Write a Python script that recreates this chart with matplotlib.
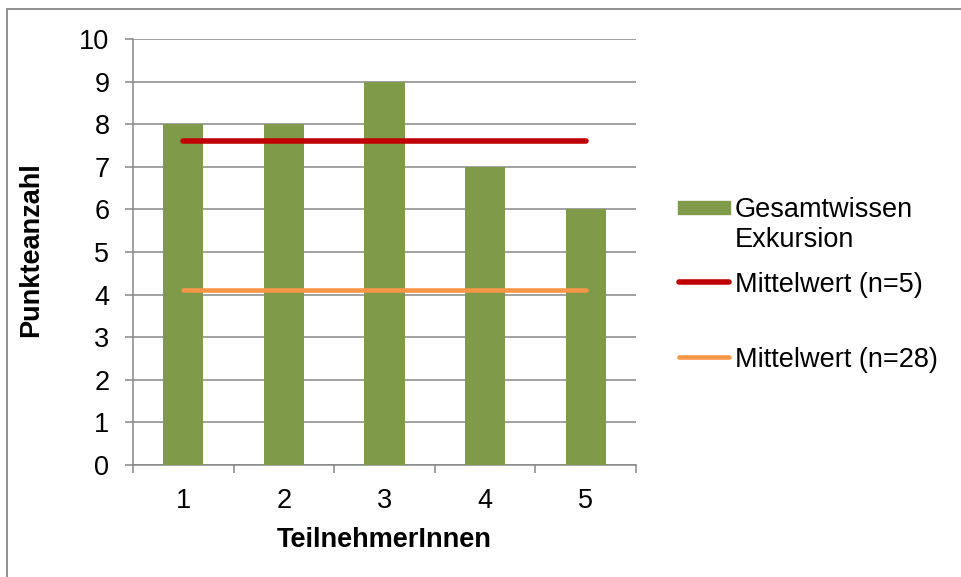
import matplotlib
matplotlib.use("Agg")
import matplotlib.pyplot as plt
from matplotlib.patches import Rectangle
from matplotlib.lines import Line2D

# Data
participants = ["1", "2", "3", "4", "5"]
scores = [8, 8, 9, 7, 6]
mean_group = 7.6      # Mittelwert (n=5)
mean_all = 4.1        # Mittelwert (n=28)
y_ticks = list(range(0, 11))

bar_color = "#7F9B49"
red = "#C00000"
orange = "#F79646"
grid_gray = "#878787"
font = "Liberation Sans"
fs = 19.5

W, H = 961, 577
fig = plt.figure(figsize=(W / 100, H / 100), dpi=100)


def fx(px):
    return px / W


def fy(py):
    return 1 - py / H


# outer chart border
fig.patches.append(Rectangle((fx(7), fy(600)), fx(1000), fy(9) - fy(600),
                             transform=fig.transFigure, fill=False,
                             edgecolor="#868686", linewidth=1.3))

ax = fig.add_axes([fx(133), fy(465), fx(636) - fx(133), fy(39) - fy(465)])

x = list(range(1, len(participants) + 1))
ax.bar(x, scores, width=0.4, color=bar_color, zorder=3)
ax.plot([x[0], x[-1]], [mean_group] * 2, color=red, lw=4.0,
        solid_capstyle="round", zorder=4)
ax.plot([x[0], x[-1]], [mean_all] * 2, color=orange, lw=3.3,
        solid_capstyle="round", zorder=4)

ax.set_xlim(0.5, len(participants) + 0.5)
ax.set_ylim(0, 10)

# y axis
ax.set_yticks(y_ticks)
ax.set_yticklabels([str(v) for v in y_ticks], fontfamily=font, fontsize=fs)
ax.yaxis.grid(True, color=grid_gray, lw=1.1, zorder=0)
ax.tick_params(axis="y", direction="out", length=6, width=1.1,
               color=grid_gray, pad=11)

# x axis: labels at centres, tick marks at category boundaries
ax.set_xticks(x)
ax.set_xticklabels(participants, fontfamily=font, fontsize=fs)
ax.set_xticks([v + 0.5 for v in range(0, len(participants) + 1)], minor=True)
ax.tick_params(axis="x", which="major", length=0, pad=16.5)
ax.tick_params(axis="x", which="minor", direction="out", length=6,
               width=1.1, color=grid_gray)

for s in ["top", "right"]:
    ax.spines[s].set_visible(False)
for s in ["left", "bottom"]:
    ax.spines[s].set_color(grid_gray)
    ax.spines[s].set_linewidth(1.1)

ax.set_axisbelow(True)

fig.text(fx(31), fy(250), "Punkteanzahl", rotation=90, ha="center",
         va="center", fontfamily=font, fontsize=fs, fontweight="bold")
fig.text(fx(384), fy(547), "TeilnehmerInnen", ha="center", va="baseline",
         fontfamily=font, fontsize=fs, fontweight="bold")

# legend
fig.patches.append(Rectangle((fx(678), fy(214)), fx(730) - fx(678),
                             fy(201) - fy(214), transform=fig.transFigure,
                             color=bar_color))
fig.lines.append(Line2D([fx(679), fx(729)], [fy(282)] * 2,
                        transform=fig.transFigure, color=red, lw=4.0,
                        solid_capstyle="round"))
fig.lines.append(Line2D([fx(679), fx(729)], [fy(357)] * 2,
                        transform=fig.transFigure, color=orange, lw=3.3,
                        solid_capstyle="round"))
legend_texts = [("Gesamtwissen", 217.5), ("Exkursion", 247),
                ("Mittelwert (n=5)", 292), ("Mittelwert (n=28)", 367)]
for txt, base in legend_texts:
    fig.text(fx(735), fy(base), txt, ha="left", va="baseline",
             fontfamily=font, fontsize=fs)

fig.savefig("out.png", dpi=100, facecolor="white")
